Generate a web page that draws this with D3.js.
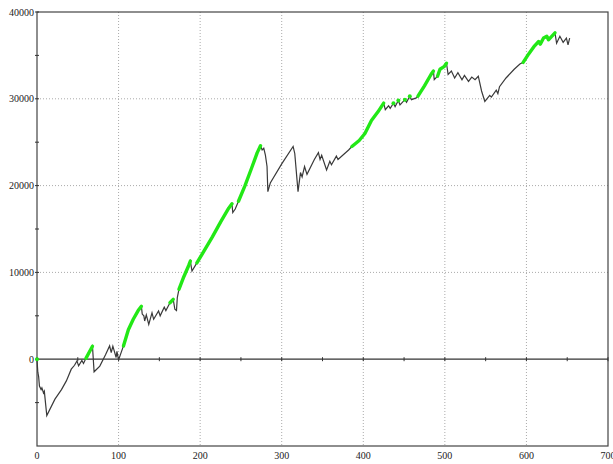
<!DOCTYPE html>
<html>
<head>
<meta charset="utf-8">
<script src="https://cdn.jsdelivr.net/npm/d3@7"></script>
<style>
  body { margin: 0; background: #fff; }
  .tick-label { font-family: "Liberation Serif", serif; font-size: 10px; fill: #222; }
</style>
</head>
<body>
<svg id="chart" width="613" height="464"></svg>
<script>

// equity curve: [trade number, cumulative profit]
var equity = [
	[0,0],[1,-1500],[2,-2000],[3,-3100],[5,-3500],[6,-3300],[8,-3900],[9,-3700],[12,-6500],
	[22,-4600],[30,-3500],[36,-2500],[42,-1150],[46,-700],[49,-200],[51,-770],[55,-150],[57,-500],
	[60,100],[64,800],[68,1500],[70,-1450],[77,-800],[84,500],[89,1530],[91,770],[93,1500],
	[97,200],[98,900],[100,-80],[106,1530],[112,3400],[118,4600],[124,5600],[128,6100],[129,5200],
	[131,5000],[132,4400],[134,5100],[137,4000],[141,5350],[143,4600],[149,5550],[151,5000],
	[156,6000],[158,5600],[163,6500],[167,6900],[169,5750],[171,5600],[172,7100],[174,8050],
	[180,9500],[186,10800],[188,11300],[190,10150],[196,11100],[205,12500],[215,14100],[225,15800],
	[235,17400],[239,17900],[240,16900],[243,17300],[247,18200],[255,20000],[263,22000],[270,23800],
	[274,24600],[276,24100],[278,24300],[280,23500],[282,22200],[283,19300],[286,20300],[300,22500],
	[314,24500],[316,23700],[320,19300],[323,21500],[325,21000],[328,22200],[331,21300],[340,23000],
	[345,23800],[347,23000],[349,23500],[355,21800],[359,22800],[361,22400],[367,23400],[369,23000],
	[382,24100],[386,24500],[395,25200],[402,26000],[410,27500],[418,28500],[425,29500],[427,28750],
	[431,29200],[433,28900],[437,29500],[439,29100],[443,29800],[445,29300],[451,29900],[453,29600],
	[457,30300],[459,29900],[465,30100],[467,30300],[475,31500],[483,32800],[486,33200],[487,32200],
	[491,32600],[494,33400],[499,33700],[502,34100],[504,32800],[508,33200],[512,32400],[516,33000],
	[521,32200],[524,32700],[529,32000],[533,32500],[537,32200],[541,32600],[545,30900],[549,29700],
	[555,30400],[557,30200],[563,31000],[565,30600],[567,31400],[575,32400],[585,33400],[592,34000],
	[596,34200],[603,35200],[610,36100],[615,36600],[617,36300],[621,37000],[625,37200],[627,36800],
	[631,37200],[635,37600],[637,36400],[641,37200],[645,36500],[649,37000],[651,36200],[653,37000]
];

// stretches of the curve drawn in green: [first trade, last trade]
var greenRuns = [
	[0,0],[60,68],[106,128],[163,167],[174,188],[196,239],[247,274],[386,425],
	[437,437],[443,443],[451,451],[457,457],[467,486],[491,502],[594,635]
];

var xTicks = [0,100,200,300,400,500,600,700];
var xMinorTicks = [50,150,250,350,450,550,650];
var yTicks = [40000,30000,20000,10000,0];
var yMinorTicks = [35000,25000,15000,5000,-5000];
var yGrid = [30000,20000,10000];

var plotLeft = 37, plotRight = 608, plotTop = 12, plotBottom = 446;

var svg = d3.select('#chart');

var x = d3.scaleLinear().domain([0,700]).range([plotLeft,plotRight]);
var y = d3.scaleLinear().domain([-10000,40000]).range([plotBottom,plotTop]);

// dotted grid
svg.append('g')
	.selectAll('line')
	.data(xTicks.slice(1,-1))
	.enter()
	.append('line')
	.attr('x1', function(d) { return x(d); })
	.attr('x2', function(d) { return x(d); })
	.attr('y1', plotTop)
	.attr('y2', plotBottom)
	.attr('stroke', '#aaa')
	.attr('stroke-dasharray', '1,2');

svg.append('g')
	.selectAll('line')
	.data(yGrid)
	.enter()
	.append('line')
	.attr('x1', plotLeft)
	.attr('x2', plotRight)
	.attr('y1', function(d) { return y(d); })
	.attr('y2', function(d) { return y(d); })
	.attr('stroke', '#aaa')
	.attr('stroke-dasharray', '1,2');

// frame
svg.append('rect')
	.attr('x', plotLeft)
	.attr('y', plotTop)
	.attr('width', plotRight-plotLeft)
	.attr('height', plotBottom-plotTop)
	.attr('fill', 'none')
	.attr('stroke', '#444')
	.attr('stroke-width', 1.2);

// zero line
svg.append('line')
	.attr('x1', plotLeft).attr('x2', plotRight)
	.attr('y1', y(0)).attr('y2', y(0))
	.attr('stroke', '#333')
	.attr('stroke-width', 1.2);

// ticks along the zero line
svg.append('g')
	.selectAll('line')
	.data(xTicks.concat(xMinorTicks))
	.enter()
	.append('line')
	.attr('x1', function(d) { return x(d); })
	.attr('x2', function(d) { return x(d); })
	.attr('y1', y(0)-2)
	.attr('y2', y(0)+2)
	.attr('stroke', '#333');

// ticks along the left axis
svg.append('g')
	.selectAll('line')
	.data(yTicks.concat(yMinorTicks))
	.enter()
	.append('line')
	.attr('x1', plotLeft-2)
	.attr('x2', plotLeft+2)
	.attr('y1', function(d) { return y(d); })
	.attr('y2', function(d) { return y(d); })
	.attr('stroke', '#333');

svg.append('g')
	.selectAll('text')
	.data(yTicks)
	.enter()
	.append('text')
	.attr('class', 'tick-label')
	.attr('x', plotLeft-3)
	.attr('y', function(d) { return y(d); })
	.attr('dy', '0.35em')
	.attr('text-anchor', 'end')
	.text(function(d) { return d; });

svg.append('g')
	.selectAll('text')
	.data(xTicks)
	.enter()
	.append('text')
	.attr('class', 'tick-label')
	.attr('x', function(d) { return x(d); })
	.attr('y', plotBottom+13)
	.attr('text-anchor', 'middle')
	.text(function(d) { return d; });

var line = d3.line()
	.x(function(d) { return x(d[0]); })
	.y(function(d) { return y(d[1]); });

svg.append('path')
	.datum(equity)
	.attr('d', line)
	.attr('fill', 'none')
	.attr('stroke', '#3a3a3a')
	.attr('stroke-width', 1.2);

// green stretches on top
for (i=0; i<greenRuns.length; i++) {
	var run = greenRuns[i];
	var pts = equity.filter(function(d) { return d[0] >= run[0] && d[0] <= run[1]; });
	if (pts.length > 1) {
		svg.append('path')
			.datum(pts)
			.attr('d', line)
			.attr('fill', 'none')
			.attr('stroke', '#22e816')
			.attr('stroke-width', 3.4)
			.attr('stroke-linecap', 'round')
			.attr('stroke-linejoin', 'round');
	} else if (pts.length == 1) {
		svg.append('circle')
			.attr('cx', x(pts[0][0]))
			.attr('cy', y(pts[0][1]))
			.attr('r', 2)
			.attr('fill', '#22e816');
	}
}

</script>
</body>
</html>
